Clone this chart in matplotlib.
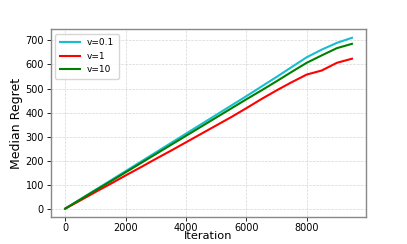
import numpy as np
import matplotlib
matplotlib.use('Agg')
import matplotlib.pyplot as plt

# Median regret vs iteration, sampled every 500 iterations
iterations = [0, 500, 1000, 1500, 2000, 2500, 3000, 3500, 4000, 4500,
              5000, 5500, 6000, 6500, 7000, 7500, 8000, 8500, 9000, 9500]
regret_v01 = [0, 39, 78, 117, 156, 195, 234, 273, 312, 351,
              390, 429, 468, 508, 548, 589, 630, 662, 690, 711]
regret_v1 = [0, 34, 69, 103, 138, 172, 207, 241, 276, 311,
             346, 381, 418, 456, 492, 526, 558, 575, 607, 624]
regret_v10 = [0, 38, 76, 113, 151, 189, 227, 265, 303, 341,
              379, 417, 455, 492, 530, 569, 607, 638, 668, 686]

labels = ['v=0.1', 'v=1', 'v=10']
colors = ['#17becf', 'red', 'green']

fig, ax = plt.subplots(figsize=(4.07, 2.44), dpi=100)
fig.subplots_adjust(left=0.125, right=0.9, bottom=0.11, top=0.88)

for series, lab, col in zip([regret_v01, regret_v1, regret_v10], labels, colors):
    ax.plot(iterations, series, color=col, linewidth=1.5, label=lab)

ax.set_xlabel('Iteration', fontsize=8.2, labelpad=-1.2)
ax.set_ylabel('Median Regret', fontsize=9, labelpad=2)
ax.set_xticks([0, 2000, 4000, 6000, 8000])
ax.set_yticks([0, 100, 200, 300, 400, 500, 600, 700])
ax.tick_params(axis='both', labelsize=7, length=3, width=0.6, pad=2)
ax.tick_params(axis='x', pad=1)

ax.grid(True, linestyle='--', linewidth=0.5, color='#cccccc', alpha=0.8)
for spine in ax.spines.values():
    spine.set_color('#888888')
    spine.set_linewidth(1.0)

ax.legend(loc='upper left', fontsize=6.5, handlelength=2.2, borderpad=0.5,
          labelspacing=0.5, framealpha=0.8)

fig.savefig('out.png', dpi=100)
